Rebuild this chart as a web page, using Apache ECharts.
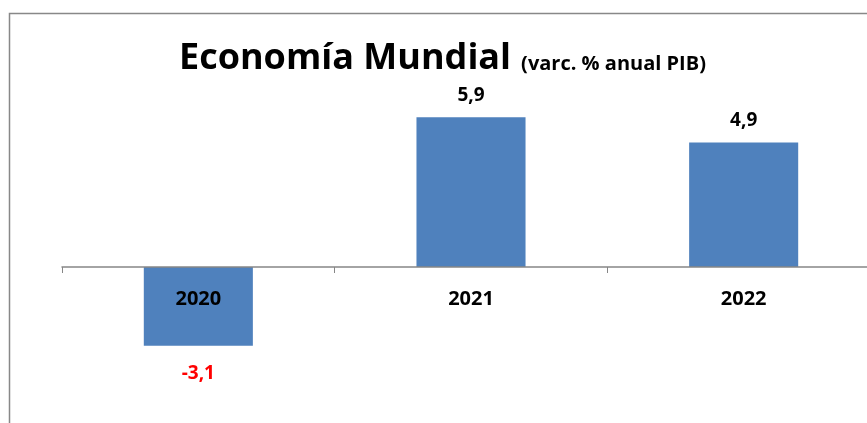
<!DOCTYPE html>
<html><head><meta charset="utf-8">
<script src="https://cdn.jsdelivr.net/npm/echarts@6/dist/echarts.min.js"></script>
<style>html,body{margin:0;padding:0;background:#fff}#c{width:867px;height:423px}</style>
</head><body><div id="c"></div>
<script>
var categories = ['2020', '2021', '2022'];
var values = [-3.1, 5.9, 4.9];
var titleMain = 'Economía Mundial';
var titleSub = '(varc. % anual PIB)';

var chart = echarts.init(document.getElementById('c'));
var FONT = '"Open Sans", "DejaVu Sans", sans-serif';
var data = values.map(function (v) {
  return {
    value: v,
    label: {
      show: true,
      position: v < 0 ? 'bottom' : 'top',
      distance: v < 0 ? 18 : 12,
      color: v < 0 ? '#FF0000' : '#000000',
      fontWeight: 'bold', fontSize: 19, fontFamily: FONT,
      formatter: function (p) { return String(p.value).replace('.', ','); }
    }
  };
});
chart.setOption({
  animation: false,
  backgroundColor: '#ffffff',
  title: {
    left: 174, top: 36,
    text: '{a|' + titleMain + '}  {b|' + titleSub + '}',
    textStyle: {
      rich: {
        a: { fontFamily: FONT, fontWeight: 'bold', fontSize: 36, color: '#000' },
        b: { fontFamily: FONT, fontWeight: 'bold', fontSize: 20, color: '#000', verticalAlign: 'bottom', padding: [0,0,3,0] }
      }
    }
  },
  graphic: [{
    type: 'rect', silent: true, z: -1,
    shape: { x: 9.5, y: 13.5, width: 900, height: 500 },
    style: { fill: 'none', stroke: '#888888', lineWidth: 1.5 }
  }],
  grid: { left: 62, top: 114.6, width: 818, height: 254, outerBoundsMode: 'none', containLabel: false },
  xAxis: {
    type: 'category', data: categories, z: 10,
    offset: -101.6,
    axisLine: { onZero: false, lineStyle: { color: '#868686', width: 1.5 } },
    axisTick: { show: true, length: 6, lineStyle: { color: '#868686' } },
    axisLabel: { margin: 22, color: '#000', fontWeight: 'bold', fontSize: 20, fontFamily: FONT }
  },
  yAxis: {
    type: 'value', min: -4, max: 6, show: false,
    splitLine: { show: false }
  },
  series: [{
    type: 'bar', data: data, barWidth: '40%',
    itemStyle: { color: '#4F81BD' }
  }]
});
</script></body></html>
